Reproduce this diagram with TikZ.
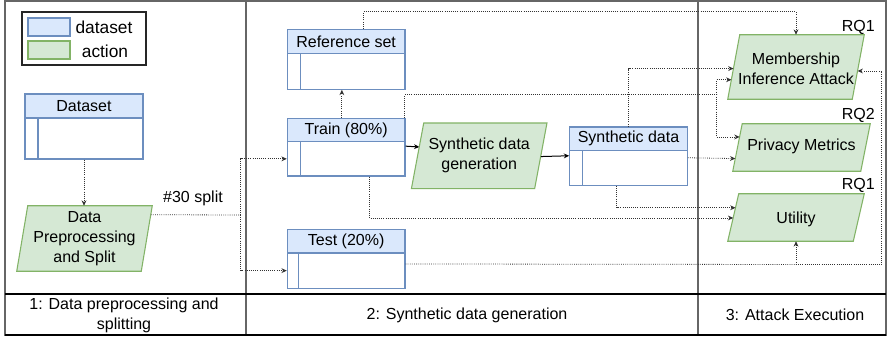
\documentclass[tikz,border=0pt]{standalone}
\usepackage{fontspec}
\setmainfont{Liberation Sans}
\usetikzlibrary{arrows.meta,calc,fit,backgrounds}
\definecolor{dsfill}{HTML}{DAE8FC}
\definecolor{dsline}{HTML}{6C8EBF}
\definecolor{acfill}{HTML}{D5E8D4}
\definecolor{acline}{HTML}{82B366}
\newcommand{\dtab}[8]{%
  \node[thead,fit={(#2,#3) (#4,#5)},label={[name=#1t,inner sep=0pt]center:#8}] (#1h) {};
  \node[tbody,fit={(#2,#5) (#4,#6)}] (#1) {};
  \draw[tline] (#7,#5) -- (#7,#6);
}
\newcommand{\paral}[2]{%
  \begin{scope}[on background layer]
    \draw[actshape] ([xshift={#2*0.75pt}]#1.north west) -- (#1.north east) -- ([xshift={-#2*0.75pt}]#1.south east) -- (#1.south west) -- cycle;
  \end{scope}
}
\begin{document}
\begin{tikzpicture}[x=0.75pt,y=-0.75pt,
  every node/.style={font=\fontsize{12}{15}\selectfont},
  tbody/.style={draw=dsline,fill=white,inner sep=0pt,line width=0.8pt},
  thead/.style={draw=dsline,fill=dsfill,inner sep=0pt,line width=0.8pt},
  tline/.style={draw=dsline,line width=0.8pt},
  act/.style={inner sep=0pt},
  acttext/.style={inner sep=0pt,align=center},
  actshape/.style={draw=acline,fill=acfill,line width=0.8pt},
  conn/.style={densely dotted,line width=0.6pt,draw=black!80,-{Stealth[length=4pt,width=3.6pt]}},
  connl/.style={densely dotted,line width=0.6pt,draw=black!80},
  sarr/.style={line width=0.75pt,draw=black,-{Stealth[length=4pt,width=3.6pt]}},
  frame/.style={draw=black!60,line width=1pt},
  rq/.style={anchor=east,inner sep=0pt}
]
\begin{scope}[on background layer]
  \fill[white] (0,0) rectangle (888,338);
\end{scope}
\useasboundingbox (0,0) rectangle (888,338);

% frame
\draw[frame] (5,1) rectangle (886,335);
\draw[frame] (246,1) -- (246,335);
\draw[frame] (698,1) -- (698,335);
\draw[black,line width=0.8pt] (5,294) -- (886,294);
\draw[black,line width=0.8pt] (5,335) -- (886,335);

% legend
\node[draw=black!85,line width=0.8pt,inner sep=0pt,fit={(22,12) (146,65)}] (legend) {};
\node[thead,fit={(28,18) (70,36)}] (lgds) {};
\node[actshape,inner sep=0pt,fit={(28,41) (70,59)}] (lgac) {};
\node[font=\fontsize{13}{15}\selectfont] (lgdst) at (104,27) {dataset};
\node[font=\fontsize{13}{15}\selectfont] (lgact) at (105,51) {action};

% tables
\dtab{dataset}{25}{94}{143}{118}{159}{38}{Dataset}
\dtab{ref}{287.3}{29.3}{405}{53.3}{89.3}{300.3}{Reference set}
\dtab{train}{287.3}{118.3}{405}{141.7}{176}{300.3}{Train (80\%)}
\dtab{test}{287.3}{229.7}{405}{253}{288.3}{298.3}{Test (20\%)}
\dtab{synth}{569.7}{127}{687.3}{150.3}{185.3}{582.7}{Synthetic data}

% actions
\node[act,fit={(17,206) (152,271)}] (dp) {};
\paral{dp}{11}
\node[acttext] (dpt) at (dp.center) {Data\\Preprocessing\\and Split};
\node[act,fit={(411.7,123.3) (546.7,188.3)}] (sdg) {};
\paral{sdg}{12.3}
\node[acttext] (sdgt) at (sdg.center) {Synthetic data\\generation};
\node[act,fit={(728,35) (864,99)}] (mia) {};
\paral{mia}{12}
\node[acttext] (miat) at ([yshift=-2*0.75pt]mia.center) {Membership\\Inference Attack};
\node[act,fit={(733,124) (870,171)}] (pm) {};
\paral{pm}{9.5}
\node[acttext] (pmt) at ([yshift=0.75pt]pm.center) {Privacy Metrics};
\node[act,fit={(728,194) (864,241)}] (util) {};
\paral{util}{11}
\node[acttext] (utilt) at ([yshift=-1.5*0.75pt]util.center) {Utility};

% RQ labels
\node[rq] (rq1a) at (875,27.3) {RQ1};
\node[rq] (rq2) at (875,115) {RQ2};
\node[rq] (rq1b) at (875,185.7) {RQ1};

% footer
\node[align=center] (f1) at (124,315) {1: Data preprocessing and\\splitting};
\node (f2) at (467,315) {2: Synthetic data generation};
\node (f3) at (795,315) {3: Attack Execution};

% connectors
\draw[conn] (dataset.south) -- (dataset.south |- dp.north);
\coordinate (sp) at (240.5,215);
\draw[connl] ($(dp.north east)+(-1.5,9)$) -- (sp);
\node (splitlbl) at (193,198) {\#30 split};
\draw[conn] (sp) |- (train.west);
\draw[conn] (sp) |- (test.west);
\draw[conn] ($(trainh.north)+(-4.3,0)$) -- ($(ref.south)+(-4.3,0)$);
\draw[conn] ($(refh.north)+(17.3,0)$) -- ++(0,-17) -| (mia.north);
\coordinate (j1) at (716.5,94.5);
\draw[connl] ($(trainh.north east)+(-0.7,0)$) |- (j1);
\draw[conn] (j1) |- ($(mia.south west)+(3.7,-19.5)$);
\draw[conn] (j1) |- ($(pm.south west)+(6.9,-34.3)$);
\draw[conn] (synthh.north) |- ($(mia.south west)+(5.8,-30.7)$);
\draw[conn] ($(synth.north east)+(0,8)$) -- ($(pm.south west)+(2.6,-12.7)$);
\draw[conn] ($(synth.south)+(-11.8,0)$) |- ($(util.south west)+(7.8,-33.5)$);
\draw[conn] ($(train.south)+(23.3,0)$) |- ($(util.south west)+(5.5,-23.3)$);
\coordinate (j2) at (796,264.5);
\draw[connl] ($(test.north east)+(0,11.5)$) -- (j2);
\draw[conn] (j2) -- (util.south);
\draw[conn] (j2) -- (881.7,264.5) |- ($(mia.south east)+(-6.7,-28.3)$);
\draw[sarr] ($(train.north east)+(0,5)$) -- ($(sdg.south west)+(7.9,-41.6)$);
\draw[sarr] ($(sdg.south east)+(-6.2,-32)$) -- ($(synth.north west)+(0,6)$);
\end{tikzpicture}
\end{document}
